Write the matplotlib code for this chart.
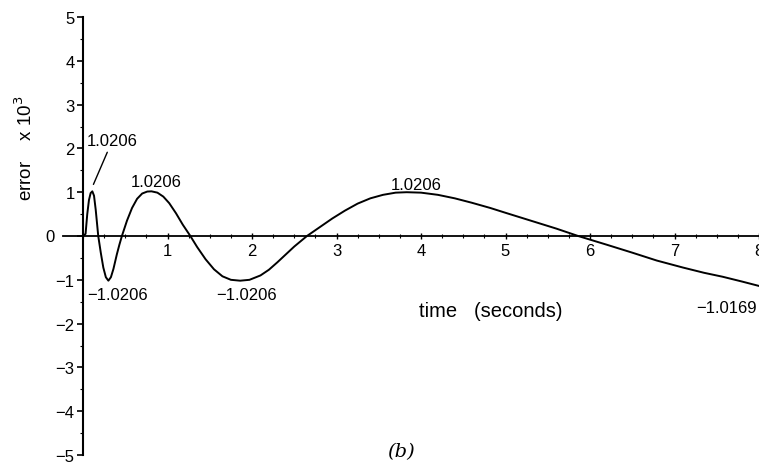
import numpy as np
import matplotlib.pyplot as plt
from matplotlib.ticker import MultipleLocator

# error curve (time in s, error x 10^3)
t = [0.0, 0.03, 0.05, 0.07, 0.09, 0.11, 0.13, 0.15, 0.18,
     0.21, 0.24, 0.27, 0.30, 0.33, 0.36, 0.40, 0.43, 0.46,
     0.52, 0.58, 0.64, 0.70, 0.76, 0.81, 0.88, 0.95, 1.02, 1.10, 1.18, 1.27,
     1.35, 1.45, 1.55, 1.65, 1.75, 1.86, 1.97, 2.10, 2.20, 2.30, 2.40, 2.50, 2.65,
     2.80, 2.95, 3.10, 3.25, 3.40, 3.55, 3.70, 3.83, 4.00, 4.20, 4.40, 4.60, 4.82,
     5.00, 5.20, 5.40, 5.60, 5.86,
     6.20, 6.50, 6.79, 7.10, 7.35, 7.57, 7.80, 8.00]
err = [0.0, 0.05, 0.50, 0.82, 0.98, 1.02, 0.92, 0.60, 0.0,
       -0.38, -0.72, -0.94, -1.02, -0.94, -0.75, -0.42, -0.20, 0.0,
       0.35, 0.64, 0.85, 0.97, 1.015, 1.02, 0.99, 0.90, 0.75, 0.52, 0.26, 0.0,
       -0.25, -0.53, -0.76, -0.92, -1.00, -1.02, -1.00, -0.90, -0.77, -0.60, -0.42, -0.24, 0.0,
       0.20, 0.40, 0.58, 0.74, 0.86, 0.94, 0.99, 1.00, 0.99, 0.94, 0.86, 0.76, 0.64,
       0.53, 0.41, 0.29, 0.17, 0.0,
       -0.20, -0.38, -0.56, -0.72, -0.84, -0.93, -1.04, -1.14]

# extremum labels: (text, x, y) of label centre in data units
ext_text = ["1.0206", "1.0206", "-1.0206", "-1.0206", "1.0206", "-1.0169"]
ext_x = [0.35, 0.86, 0.41, 1.93, 3.94, 7.62]
ext_y = [2.18, 1.24, -1.33, -1.33, 1.18, -1.64]

yticks = list(range(-5, 6))

plt.rcParams['font.family'] = ['Liberation Sans', 'DejaVu Sans']

fig = plt.figure(figsize=(7.59, 4.64), dpi=100)
ax = fig.add_axes([0.1094, 0.0172, 0.8906, 0.944])

ax.plot(t, err, color='black', lw=1.4, clip_on=False)

ax.set_xlim(0, 8)
ax.set_ylim(-5, 5)

for s in ['top', 'right']:
    ax.spines[s].set_visible(False)
ax.spines['bottom'].set_position(('data', 0))
ax.spines['bottom'].set_bounds(-0.24, 8)
ax.spines['left'].set_linewidth(1.5)
ax.spines['bottom'].set_linewidth(1.3)

ax.set_xticks(range(1, 9))
ax.xaxis.set_minor_locator(MultipleLocator(0.25))
ax.tick_params(axis='x', which='major', direction='inout', length=4, width=1,
               labelsize=12, pad=3)
ax.tick_params(axis='x', which='minor', direction='inout', length=2.5, width=0.8)

# zero label sits left of the extended time axis, drawn separately
ax.set_yticks(yticks)
ax.set_yticklabels(['' if v == 0 else str(v).replace('-', '\u2212') for v in yticks])
ax.yaxis.set_minor_locator(MultipleLocator(0.5))
ax.tick_params(axis='y', which='major', direction='out', length=4, width=1.2,
               labelsize=12, pad=2)
ax.tick_params(axis='y', which='minor', direction='out', length=2.5, width=0.8)
ax.text(-0.34, 0, '0', ha='right', va='center', fontsize=12)

for txt, x, y in zip(ext_text, ext_x, ext_y):
    ax.text(x, y, txt.replace('-', '\u2212'), ha='center', va='center', fontsize=12)

# leader line from first label to first peak
ax.annotate('', xy=(t[5], 1.12), xytext=(0.30, 1.97),
            arrowprops=dict(arrowstyle='-', color='black', lw=1.0))

fig.text(0.033, 0.68, 'error    x 10$^3$', rotation=90, ha='center', va='center',
         fontsize=13.5)
ax.text(4.83, -1.71, 'time   (seconds)', ha='center', va='center', fontsize=14.5)
fig.text(0.528, 0.026, '(b)', ha='center', va='center', fontsize=14,
         family='DejaVu Serif', style='italic')

fig.savefig('out.png', dpi=100)
